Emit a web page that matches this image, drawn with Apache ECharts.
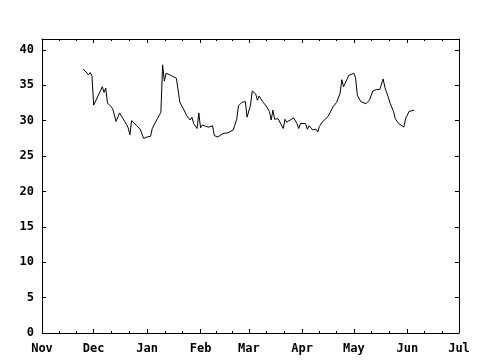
<!DOCTYPE html>
<html>
<head>
<meta charset="utf-8">
<script src="https://cdn.jsdelivr.net/npm/echarts@6/dist/echarts.min.js"></script>
<style>html,body{margin:0;padding:0;background:#fff}#c{width:480px;height:360px}</style>
</head>
<body>
<div id="c"></div>
<script>
var dates = [
 '2006-11-25','2006-11-28','2006-11-29','2006-11-30','2006-12-01','2006-12-06','2006-12-07','2006-12-08','2006-12-09','2006-12-11',
 '2006-12-12','2006-12-13','2006-12-14','2006-12-16','2006-12-18','2006-12-20','2006-12-21','2006-12-22','2006-12-23','2006-12-26',
 '2006-12-28','2006-12-30','2006-12-31','2007-01-01','2007-01-03','2007-01-04','2007-01-07','2007-01-09','2007-01-10','2007-01-11',
 '2007-01-12','2007-01-14','2007-01-18','2007-01-20','2007-01-22','2007-01-24','2007-01-26','2007-01-27','2007-01-28','2007-01-30',
 '2007-01-31','2007-02-01','2007-02-02','2007-02-04','2007-02-06','2007-02-08','2007-02-09','2007-02-11','2007-02-12','2007-02-14',
 '2007-02-15','2007-02-17','2007-02-20','2007-02-22','2007-02-23','2007-02-25','2007-02-27','2007-02-28','2007-03-02','2007-03-03',
 '2007-03-05','2007-03-06','2007-03-07','2007-03-09','2007-03-11','2007-03-13','2007-03-14','2007-03-15','2007-03-16','2007-03-18',
 '2007-03-19','2007-03-21','2007-03-22','2007-03-23','2007-03-27','2007-03-29','2007-03-30','2007-03-31','2007-04-03','2007-04-04',
 '2007-04-05','2007-04-07','2007-04-09','2007-04-10','2007-04-11','2007-04-13','2007-04-16','2007-04-19','2007-04-21','2007-04-23',
 '2007-04-24','2007-04-25','2007-04-26','2007-04-28','2007-05-01','2007-05-02','2007-05-03','2007-05-05','2007-05-08','2007-05-10',
 '2007-05-12','2007-05-14','2007-05-16','2007-05-18','2007-05-19','2007-05-21','2007-05-22','2007-05-23','2007-05-24','2007-05-25',
 '2007-05-27','2007-05-30','2007-05-31','2007-06-02','2007-06-05'
];
var values = [
 37.3,36.5,36.8,36.3,32.2,34.8,34.0,34.6,32.5,32.0,
 31.7,31.5,29.9,31.1,30.3,29.5,29.0,28.0,30.0,29.3,
 28.8,27.5,27.4,27.7,27.8,28.9,30.3,31.2,37.9,35.6,
 36.7,36.5,36.0,32.6,31.7,30.7,30.1,30.5,29.6,28.9,
 31.1,29.0,29.4,29.2,29.1,29.3,27.9,27.7,27.7,28.2,
 28.1,28.3,28.7,30.2,32.1,32.6,32.7,30.5,32.2,34.2,
 33.8,32.9,33.5,32.7,32.1,31.3,30.1,31.5,30.2,30.3,
 30.5,28.9,30.2,29.8,30.4,29.6,28.9,29.6,29.6,28.8,
 29.3,28.7,28.8,28.4,29.2,29.9,30.6,32.0,32.6,33.9,
 35.8,34.8,34.7,36.4,36.7,36.0,33.6,32.7,32.4,32.9,
 34.2,34.4,34.4,35.9,34.7,33.3,32.5,32.6,31.3,30.3,
 29.6,29.1,30.3,31.3,31.5
];
var monthStarts = ['2006-11-01','2006-12-01','2007-01-01','2007-02-01','2007-03-01','2007-04-01','2007-05-01','2007-06-01','2007-07-01'];
var monthLabels = ['Nov','Dec','Jan','Feb','Mar','Apr','May','Jun','Jul'];
var yTicks = [0,5,10,15,20,25,30,35,40];

var origin = Date.parse(monthStarts[0]);
function dayOf(s){ return (Date.parse(s) - origin) / 86400000; }
var monthDays = monthStarts.map(dayOf);
var minorDays = [];
for (var i = 0; i < monthDays.length - 1; i++) {
  var a = monthDays[i], b = monthDays[i+1];
  minorDays.push(a + (b - a) / 3, a + 2 * (b - a) / 3);
}
var seriesData = dates.map(function(d, i){ return [dayOf(d), values[i]]; });
var xMax = monthDays[monthDays.length - 1];
var yMax = 41.55;

var font = '"DejaVu Sans Mono", monospace';
var lineStyle = {color: '#000', width: 1};

function xAx(pos, ticks, len, showLine, showLabel) {
  return {
    type: 'value', position: pos, min: 0, max: xMax,
    splitLine: {show: false},
    axisLine: {show: showLine, onZero: false, lineStyle: lineStyle},
    axisTick: {show: true, inside: true, length: len, customValues: ticks, lineStyle: lineStyle},
    axisLabel: showLabel ? {
      show: true, customValues: monthDays, margin: 10,
      color: '#000', fontFamily: font, fontWeight: 'bold', fontSize: 12,
      formatter: function(v){ var k = monthDays.indexOf(v); return k >= 0 ? monthLabels[k] : ''; }
    } : {show: false}
  };
}
function yAx(pos, showLabel) {
  return {
    type: 'value', position: pos, min: 0, max: yMax,
    splitLine: {show: false},
    axisLine: {show: true, onZero: false, lineStyle: lineStyle},
    axisTick: {show: true, inside: true, length: 4, customValues: yTicks, lineStyle: lineStyle},
    axisLabel: showLabel ? {
      show: true, customValues: yTicks, margin: 8,
      color: '#000', fontFamily: font, fontWeight: 'bold', fontSize: 12
    } : {show: false}
  };
}

var chart = echarts.init(document.getElementById('c'), null, {renderer: 'canvas'});
chart.setOption({
  animation: false,
  backgroundColor: '#fff',
  grid: {left: 42, right: 21, top: 39, bottom: 27, containLabel: false},
  xAxis: [
    xAx('bottom', monthDays, 4, true, true),
    xAx('bottom', minorDays, 2, false, false),
    xAx('top', monthDays, 4, true, false),
    xAx('top', minorDays, 2, false, false)
  ],
  yAxis: [yAx('left', true), yAx('right', false)],
  series: [{
    type: 'line', xAxisIndex: 0, yAxisIndex: 0,
    data: seriesData, showSymbol: false, symbol: 'none',
    lineStyle: {color: '#000', width: 1}, itemStyle: {color: '#000'}
  }]
});
</script>
</body>
</html>
